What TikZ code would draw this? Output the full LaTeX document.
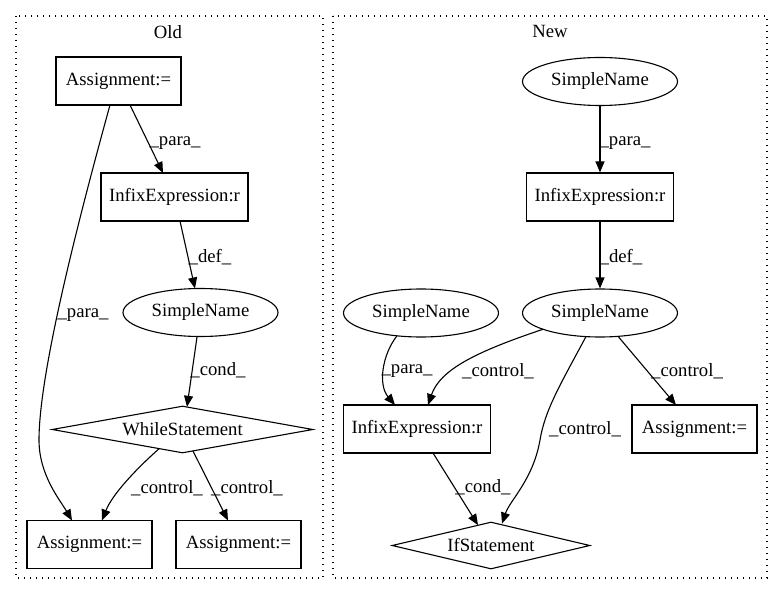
\documentclass[tikz,border=0pt]{standalone}
\usepackage{fontspec}
\setmainfont{Liberation Serif}
\usetikzlibrary{shapes.geometric,arrows.meta,calc}
\begin{document}
\begin{tikzpicture}[x=1pt,y=-1pt,
  every node/.style={font=\fontsize{18.7}{22}\selectfont},
  box/.style={draw,line width=1.1pt,rectangle,minimum width=125pt,minimum height=48pt,inner sep=0pt},
  wbox/.style={box,minimum width=147pt},
  ell/.style={draw,ellipse,line width=1.1pt,minimum width=155pt,minimum height=48pt,inner sep=0pt},
  dia/.style={draw,diamond,line width=1.1pt,inner sep=0pt},
  conn/.style={draw,line width=1.1pt,-{Triangle[length=11pt,width=9pt]}},
  lbl/.style={inner sep=0pt},
  cluster/.style={draw,line width=1.3pt,dash pattern=on 1.3pt off 4.7pt}]
\useasboundingbox (0,0) rectangle (784,596);
% clusters
\draw[cluster] (16,16) rectangle (323,578);
\draw[cluster] (333,16) rectangle (767,578);
\node (tOld) at (168,32) {Old};
\node (tNew) at (550,31) {New};
% Old nodes
\node[box] (A1) at (118.5,81) {Assignment:=};
\node[wbox] (I1) at (174.5,197) {InfixExpression:r};
\node[ell] (S1) at (200.5,312.5) {SimpleName};
\node[dia,aspect=5.55,minimum width=261pt,minimum height=47pt] (W) at (182.5,429.5) {WhileStatement};
\node[box] (AL) at (89.5,544.5) {Assignment:=};
\node[box] (AR) at (238.5,544.5) {Assignment:=};
% New nodes
\node[ell] (ST) at (600,81.5) {SimpleName};
\node[wbox] (IN) at (600,197) {InfixExpression:r};
\node[ell] (SM) at (600,313) {SimpleName};
\node[ell] (SL) at (421,313) {SimpleName};
\node[wbox] (IL) at (417,429) {InfixExpression:r};
\node[box] (AR2) at (694.5,429) {Assignment:=};
\node[dia,aspect=4.2,minimum width=198pt,minimum height=47pt] (IF) at (491,545.5) {IfStatement};
% Old edges
\draw[conn] ($(A1)+(11.5,24)$) -- ($(I1)+(-11.5,-24)$) node[lbl] at (175,143) {\_para\_};
\draw[conn] ($(A1)+(-8.5,24)$) .. controls (70,250) and (39,380) .. (39,440) .. controls (39,475) and (60,500) .. ($(AL)+(-17.5,-24)$) node[lbl] at (83,315) {\_para\_};
\draw[conn] ($(I1)+(5.5,24)$) -- ($(S1)+(-5.5,-24)$) node[lbl] at (210,257) {\_def\_};
\draw[conn] ($(S1)+(-3.5,24.5)$) -- ($(W)+(4.5,-22.7)$) node[lbl] at (218,370) {\_cond\_};
\draw[conn] ($(W)+(-23.5,19.3)$) .. controls (135,470) and (112,495) .. ($(AL)+(12.5,-24)$) node[lbl] at (167,488) {\_control\_};
\draw[conn] ($(W)+(10.5,21.6)$) -- ($(AR)+(-10.5,-24)$) node[lbl] at (247,488) {\_control\_};
% New edges
\draw[conn] (ST.south) -- (IN.north) node[lbl] at (625,143) {\_para\_};
\draw[conn] (IN.south) -- (SM.north) node[lbl] at (621,257) {\_def\_};
\draw[conn] ($(SL)+(-24,22.8)$) .. controls (382,355) and (378,385) .. ($(IL)+(-22,-24)$) node[lbl] at (407,371) {\_para\_};
\draw[conn] ($(SM)+(-57,16.3)$) .. controls (475,352) and (440,370) .. ($(IL)+(11,-24)$) node[lbl] at (498,371) {\_control\_};
\draw[conn] ($(SM)+(-14,23.6)$) .. controls (560,385) and (545,410) .. (540,440) .. controls (533,480) and (510,500) .. ($(IF)+(11,-21.9)$) node[lbl] at (585,429) {\_control\_};
\draw[conn] ($(SM)+(18,23.3)$) -- ($(AR2)+(-18.5,-24)$) node[lbl] at (687,371) {\_control\_};
\draw[conn] ($(IL)+(16,24)$) -- ($(IF)+(-13,-20.4)$) node[lbl] at (483,487) {\_cond\_};
\end{tikzpicture}
\end{document}
